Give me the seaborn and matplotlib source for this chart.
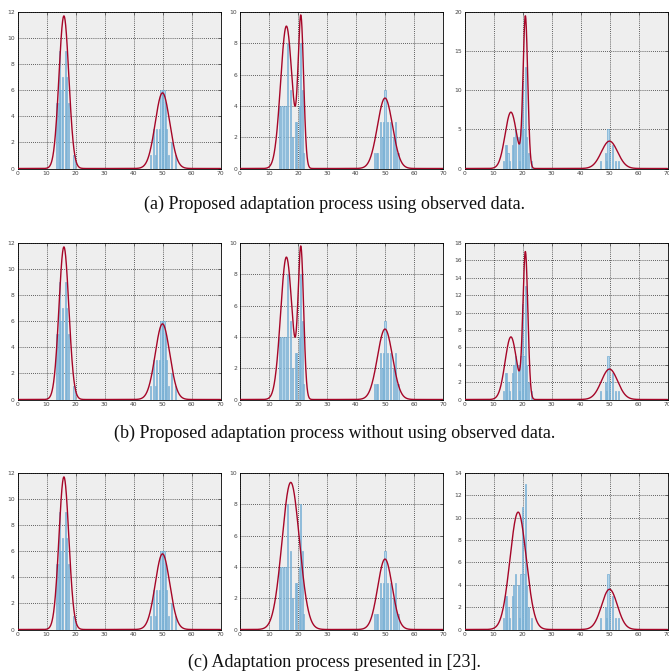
import numpy as np
import pandas as pd
import matplotlib
matplotlib.use("Agg")
import matplotlib.pyplot as plt
import seaborn as sns

# histogram of observed data, one per column (same in every row)
hist_pos = [
    [13.5, 14.0, 14.5, 15.0, 15.5, 16.5, 17.0, 17.5, 19.5,
     46.0, 47.0, 47.5, 48.0, 49.0, 49.5, 50.0, 50.5, 51.0, 51.5, 52.0, 53.0, 54.5],
    [13.5, 14.5, 15.5, 16.5, 17.5, 18.0, 19.0, 19.5, 20.5, 21.0, 21.5, 22.0,
     46.5, 47.0, 47.5, 48.5, 49.0, 49.5, 50.0, 51.0, 52.0, 53.0, 53.5, 54.5],
    [13.5, 14.0, 14.5, 15.0, 15.5, 16.5, 17.0, 17.5, 18.5, 19.0, 19.5, 20.0, 20.5,
     21.0, 21.5, 22.0, 23.0,
     47.0, 48.5, 49.0, 49.5, 50.0, 51.0, 52.0, 53.0],
]
hist_cnt = [
    [5, 5, 9, 6, 7, 9, 7, 5, 1,
     1, 3, 1, 3, 3, 6, 6, 6, 5, 3, 1, 2, 1],
    [4, 4, 4, 8, 5, 2, 3, 3, 4, 8, 5, 1,
     1, 1, 1, 3, 2, 3, 5, 3, 3, 2, 3, 1],
    [1, 3, 3, 2, 1, 3, 4, 5, 4, 1, 5, 11, 5,
     13, 4, 2, 1,
     1, 2, 1, 5, 2, 3, 1, 1],
]

# fitted mixture components per panel (row, col): means, sigmas, peak heights
comp_mu = [
    [[16, 50], [16, 21, 50], [16, 21, 50]],
    [[16, 50], [16, 21, 50], [16, 21, 50]],
    [[16, 50], [17.5, 50], [18.5, 50]],
]
comp_sd = [
    [[1.7, 2.5], [2.0, 0.95, 2.6], [2.0, 0.8, 2.8]],
    [[1.7, 2.5], [2.0, 0.95, 2.6], [2.0, 0.85, 2.8]],
    [[1.7, 2.5], [3.0, 2.5], [2.8, 2.7]],
]
comp_h = [
    [[11.7, 5.8], [9.1, 9.4, 4.5], [7.2, 19.2, 3.5]],
    [[11.7, 5.8], [9.1, 9.4, 4.5], [7.2, 16.7, 3.5]],
    [[11.7, 5.8], [9.4, 4.5], [10.5, 3.6]],
]

y_max = [[12, 10, 20], [12, 10, 18], [12, 10, 14]]
y_step = [[2, 2, 5], [2, 2, 2], [2, 2, 2]]
captions = [
    "(a) Proposed adaptation process using observed data.",
    "(b) Proposed adaptation process without using observed data.",
    "(c) Adaptation process presented in [23].",
]

sns.set_style("whitegrid")
plt.rcParams["font.family"] = ["DejaVu Sans"]

W, H = 669, 672
fig = plt.figure(figsize=(W / 100, H / 100), dpi=100)

lefts = [17.5, 240, 464.5]
axw = 203
tops = [12, 243, 473]
axh = 156.5
cap_y = [204, 433, 662]

xs = np.linspace(0, 70, 1401)

for r in range(3):
    for c in range(3):
        ax = fig.add_axes([lefts[c] / W, 1 - (tops[r] + axh) / H, axw / W, axh / H])
        ax.set_facecolor("#eeeeee")
        ax.bar(hist_pos[c], hist_cnt[c], width=0.4, color="#b4d5ea",
               edgecolor="#6aa7d0", linewidth=0.45, zorder=2)
        ys = np.zeros_like(xs)
        for mu, sd, h in zip(comp_mu[r][c], comp_sd[r][c], comp_h[r][c]):
            ys = ys + h * np.exp(-0.5 * ((xs - mu) / sd) ** 2)
        df = pd.DataFrame({"x": xs, "y": ys})
        sns.lineplot(data=df, x="x", y="y", ax=ax, color="#A60628", lw=1.0, zorder=3)
        ax.set_xlim(0, 70)
        ax.set_ylim(0, y_max[r][c])
        ax.set_xticks(range(0, 71, 10))
        ax.set_yticks(range(0, y_max[r][c] + 1, y_step[r][c]))
        ax.grid(True, color="black", linestyle=(0, (1, 1.5)), linewidth=0.6, alpha=0.8)
        ax.set_axisbelow(True)
        for s in ax.spines.values():
            s.set_color("black")
            s.set_linewidth(0.6)
        ax.tick_params(labelsize=4.3, colors="#444444", length=2, width=0.5,
                       direction="in", pad=2, top=True, right=True)
        ax.set_xlabel("")
        ax.set_ylabel("")
    fig.text(0.5, 1 - cap_y[r] / H, captions[r], ha="center", va="center",
             fontsize=13, family="Liberation Serif", color="#111111")

fig.savefig("out.png", dpi=100)
